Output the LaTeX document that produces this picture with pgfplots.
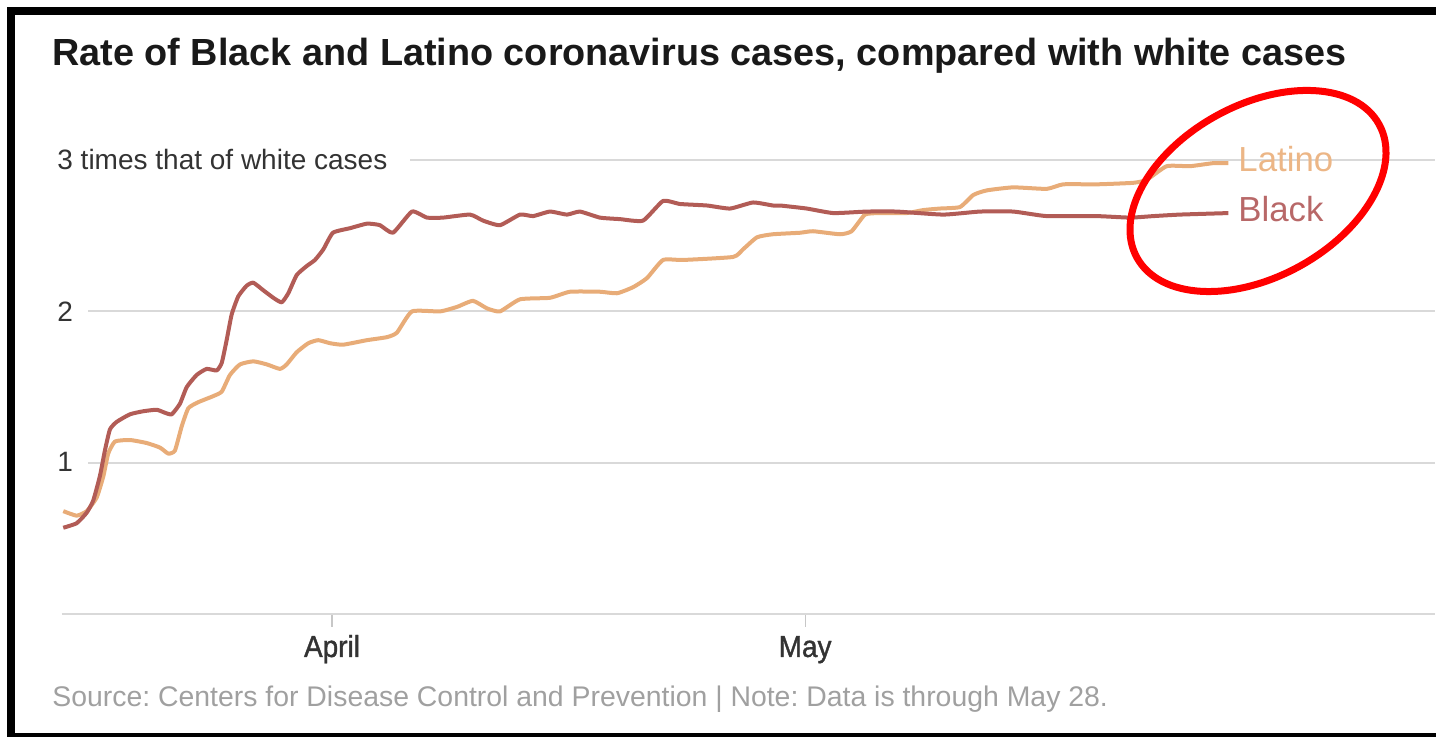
\documentclass[border=0pt]{standalone}
\usepackage{pgfplots}
\pgfplotsset{compat=1.18}
\usepackage{fontspec}
\setmainfont{Liberation Sans}
\newfontfamily\medfont[FakeBold=1.2, FakeStretch=0.92]{Liberation Sans}

\definecolor{blackline}{RGB}{178,92,86}
\definecolor{latinoline}{RGB}{232,172,120}
\definecolor{blacktext}{RGB}{184,104,104}
\definecolor{latinotext}{RGB}{236,182,134}
\definecolor{gridgray}{RGB}{217,217,217}
\definecolor{ticktext}{RGB}{51,51,51}
\definecolor{srcgray}{RGB}{160,160,160}

% days from April 1, rate relative to white cases
\pgfplotstableread{
day rate
-17.04 0.57
-16.19 0.60
-15.55 0.67
-15.14 0.75
-14.72 0.91
-14.40 1.08
-14.08 1.22
-13.65 1.27
-12.81 1.32
-11.97 1.34
-11.12 1.35
-10.59 1.33
-10.16 1.32
-9.64 1.39
-9.21 1.50
-8.58 1.58
-7.95 1.62
-7.31 1.61
-6.99 1.66
-6.68 1.81
-6.36 1.98
-5.94 2.10
-5.41 2.17
-4.99 2.19
-4.36 2.14
-3.72 2.09
-3.19 2.06
-2.77 2.12
-2.24 2.24
-1.60 2.30
-1.08 2.34
-0.55 2.41
0.06 2.52
1.14 2.55
2.22 2.58
3.04 2.57
3.87 2.52
5.07 2.66
6.02 2.62
7.04 2.62
8.75 2.64
9.58 2.60
10.65 2.57
11.92 2.64
12.75 2.63
13.82 2.66
14.90 2.64
15.72 2.66
16.99 2.62
18.26 2.61
19.72 2.60
20.99 2.73
22.07 2.71
23.78 2.70
25.24 2.68
26.70 2.72
27.96 2.70
28.41 2.70
30.10 2.68
31.79 2.65
33.91 2.66
35.81 2.66
38.76 2.64
41.09 2.66
43.20 2.66
45.32 2.63
48.49 2.63
50.60 2.62
52.08 2.63
53.77 2.64
56.84 2.65
}\blackdata

\pgfplotstableread{
day rate
-17.04 0.68
-16.19 0.65
-15.55 0.68
-14.92 0.77
-14.50 0.91
-14.19 1.06
-13.76 1.14
-12.81 1.15
-11.75 1.13
-10.91 1.10
-10.38 1.06
-9.96 1.08
-9.53 1.24
-9.11 1.36
-8.48 1.40
-7.53 1.44
-6.99 1.47
-6.47 1.58
-5.83 1.65
-4.99 1.67
-4.14 1.65
-3.30 1.62
-2.87 1.65
-2.24 1.73
-1.50 1.79
-0.87 1.81
-0.13 1.79
0.70 1.78
2.22 1.81
3.49 1.83
4.12 1.86
5.07 2.00
6.85 2.00
7.93 2.03
8.94 2.07
9.83 2.02
10.65 2.00
11.92 2.08
13.82 2.09
15.09 2.13
16.99 2.13
18.07 2.12
19.09 2.16
19.97 2.22
20.99 2.34
22.26 2.34
25.43 2.36
26.06 2.41
26.95 2.49
27.96 2.51
29.68 2.52
30.50 2.53
32.21 2.51
32.95 2.53
33.80 2.64
34.75 2.65
36.44 2.65
37.50 2.67
38.55 2.68
39.82 2.69
40.67 2.77
41.52 2.80
43.20 2.82
45.32 2.81
46.37 2.84
48.49 2.84
50.81 2.85
51.66 2.87
52.93 2.96
54.41 2.96
55.88 2.98
56.84 2.98
}\latinodata

\begin{document}
\frenchspacing
\begin{tikzpicture}
\useasboundingbox (0,0) rectangle (718pt,368.5pt);

\begin{axis}[
  at={(31pt,61.5pt)}, anchor=south west,
  scale only axis, width=686.5pt, height=234.5pt,
  xmin=-17.12, xmax=69.94, ymin=0, ymax=3.1,
  clip=false,
  axis x line=bottom, axis y line=none,
  x axis line style={draw=gridgray, line width=1pt, -},
  xtick={0,30}, xticklabels={April,May},
  tick align=outside, major tick length=6.5pt,
  x tick style={draw=gridgray!80!gray, line width=0.6pt},
  xticklabel style={font=\medfont\fontsize{15.2}{17}\selectfont, text=ticktext, anchor=base, yshift=-15pt},
  ytick=\empty,
]
\draw[gridgray, line width=1pt] (axis cs:-15.47,1) -- (axis cs:69.94,1);
\draw[gridgray, line width=1pt] (axis cs:-15.47,2) -- (axis cs:69.94,2);
\draw[gridgray, line width=1pt] (axis cs:4.95,3) -- (axis cs:69.94,3);
\addplot[latinoline, line width=2pt, line join=round, smooth, tension=0.3] table[x=day, y=rate] {\latinodata};
\addplot[blackline, line width=2pt, line join=round, smooth, tension=0.3] table[x=day, y=rate] {\blackdata};
\end{axis}

\node[anchor=base west, inner sep=0pt, font=\fontsize{18.9}{22}\selectfont\bfseries, text=black!90] at (26pt,335.5pt) {Rate of Black and Latino coronavirus cases, compared with white cases};
\node[anchor=base west, inner sep=0pt, font=\fontsize{14}{16}\selectfont, text=ticktext] at (28.5pt,283.5pt) {3 times that of white cases};
\node[anchor=base west, inner sep=0pt, font=\fontsize{14}{16}\selectfont, text=ticktext] at (28.5pt,207.5pt) {2};
\node[anchor=base west, inner sep=0pt, font=\fontsize{14}{16}\selectfont, text=ticktext] at (28.5pt,132.5pt) {1};
\node[anchor=base west, inner sep=0pt, font=\fontsize{17.4}{20}\selectfont, text=latinotext] at (619pt,282.5pt) {Latino};
\node[anchor=base west, inner sep=0pt, font=\fontsize{17.4}{20}\selectfont, text=blacktext] at (619pt,257.5pt) {Black};
\node[anchor=base west, inner sep=0pt, font=\fontsize{14.2}{17}\selectfont, text=srcgray] at (26pt,15pt) {Source: Centers for Disease Control and Prevention | Note: Data is through May 28.};

\draw[red, line width=3.5pt, rotate around={28.8:(629pt,273pt)}] (629pt,273pt) ellipse [x radius=69.1pt, y radius=43pt];

\draw[black, line width=4pt] (5.5pt,0pt) rectangle (740pt,363pt);
\end{tikzpicture}
\end{document}
